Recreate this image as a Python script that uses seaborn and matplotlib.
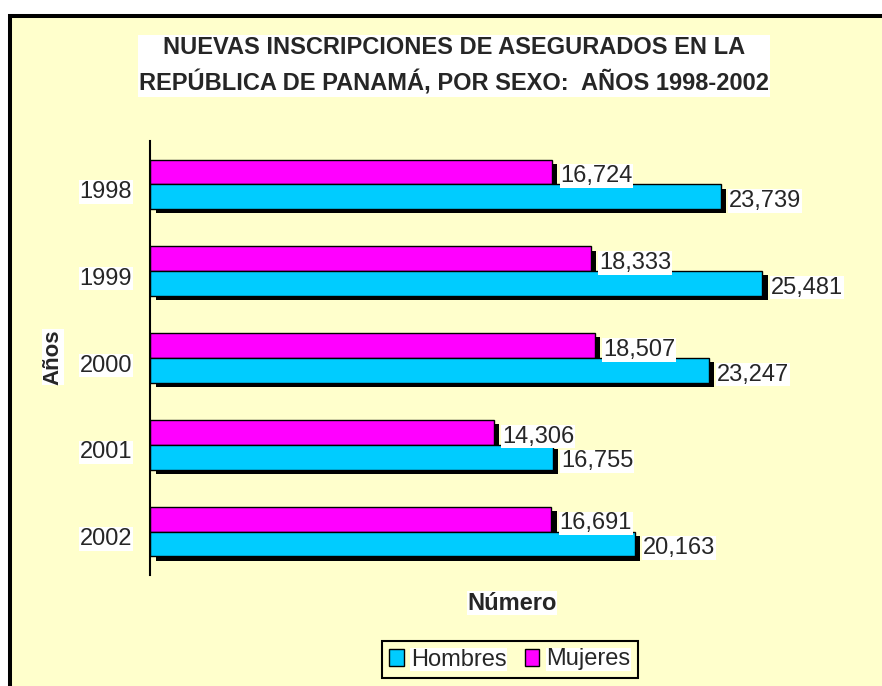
import pandas as pd
import matplotlib
matplotlib.use("Agg")
import matplotlib.pyplot as plt
import matplotlib.patheffects as pe
import matplotlib.transforms as mtransforms
from matplotlib.patches import Rectangle, Patch
import seaborn as sns

# data
years = ['1998', '1999', '2000', '2001', '2002']
hombres = [23739, 25481, 23247, 16755, 20163]
mujeres = [16724, 18333, 18507, 14306, 16691]

df = pd.DataFrame({
    'Año': years * 2,
    'Número': hombres + mujeres,
    'Sexo': ['Hombres'] * 5 + ['Mujeres'] * 5,
})

colors = {'Hombres': '#00CCFF', 'Mujeres': '#FF00FF'}
bg = '#FFFFCC'

sns.set_style('white')
plt.rcParams['font.family'] = ['Liberation Sans', 'DejaVu Sans']

fig = plt.figure(figsize=(8.82, 6.86), dpi=100, facecolor='white')
# yellow chart area with thick black frame (only top/left visible)
fig.patches.append(Rectangle((10 / 882, -0.1), 1.2, 1 - 15.5 / 686 + 0.1,
                             transform=fig.transFigure, facecolor=bg,
                             edgecolor='black', linewidth=2.9, zorder=-1))

ax = fig.add_axes([150 / 882, 1 - 575 / 686, 721 / 882, 434 / 686])
ax.set_facecolor('none')

sns.barplot(data=df, y='Año', x='Número', hue='Sexo',
            hue_order=['Mujeres', 'Hombres'], order=years,
            palette=colors, saturation=1, width=0.57, edgecolor='black', linewidth=1,
            orient='h', legend=False, ax=ax)

for bar in ax.patches:
    bar.set_path_effects([pe.SimplePatchShadow(offset=(4, -3), shadow_rgbFace='black', alpha=1),
                          pe.Normal()])

for cont in ax.containers:
    vals = cont.datavalues
    anns = ax.bar_label(cont, labels=[f'{v:,.0f}' for v in vals], padding=6, fontsize=17,
                        bbox=dict(facecolor='white', edgecolor='none', pad=0.5))
    for a in anns:
        a.xyann = (6, -3)

ax.set_xlim(0, 30000)
ax.set_xlabel('')
ax.set_ylabel('')
ax.set_xticks([])
ax.tick_params(axis='y', length=0, pad=13, labelsize=17)
shift = mtransforms.ScaledTranslation(0, -5 / 100, fig.dpi_scale_trans)
for lbl in ax.get_yticklabels():
    lbl.set_bbox(dict(facecolor='white', edgecolor='none', pad=0.5))
    lbl.set_transform(lbl.get_transform() + shift)
for s in ['top', 'right', 'bottom']:
    ax.spines[s].set_visible(False)
ax.spines['left'].set_color('black')
ax.spines['left'].set_linewidth(1.5)

fig.text(454 / 882, 1 - 66 / 686,
         'NUEVAS INSCRIPCIONES DE ASEGURADOS EN LA\nREPÚBLICA DE PANAMÁ, POR SEXO:  AÑOS 1998-2002',
         ha='center', va='center', fontsize=17, weight='bold', linespacing=1.6,
         bbox=dict(facecolor='white', edgecolor='none', pad=1))
fig.text(512 / 882, 1 - 603 / 686, 'Número', ha='center', va='center',
         fontsize=17, weight='bold',
         bbox=dict(facecolor='white', edgecolor='none', pad=0.5))
fig.text(53 / 882, 1 - 357 / 686, 'Años', ha='center', va='center', rotation=90,
         fontsize=16, weight='bold',
         bbox=dict(facecolor='white', edgecolor='none', pad=0.5))

handles = [Patch(facecolor=colors[k], edgecolor='black', label=k) for k in ['Hombres', 'Mujeres']]
leg = fig.legend(handles=handles, loc='center', bbox_to_anchor=(510 / 882, 1 - 659.5 / 686),
                 ncol=2, fontsize=17, frameon=True, fancybox=False, edgecolor='black',
                 facecolor=bg, framealpha=1, handlelength=0.6, handleheight=0.7,
                 handletextpad=0.3, columnspacing=0.8, borderpad=0.3, borderaxespad=0)
leg.get_frame().set_linewidth(1.5)
for t in leg.get_texts():
    t.set_bbox(dict(facecolor='white', edgecolor='none', pad=0.5))

fig.savefig('out.png', dpi=100, facecolor='white')
